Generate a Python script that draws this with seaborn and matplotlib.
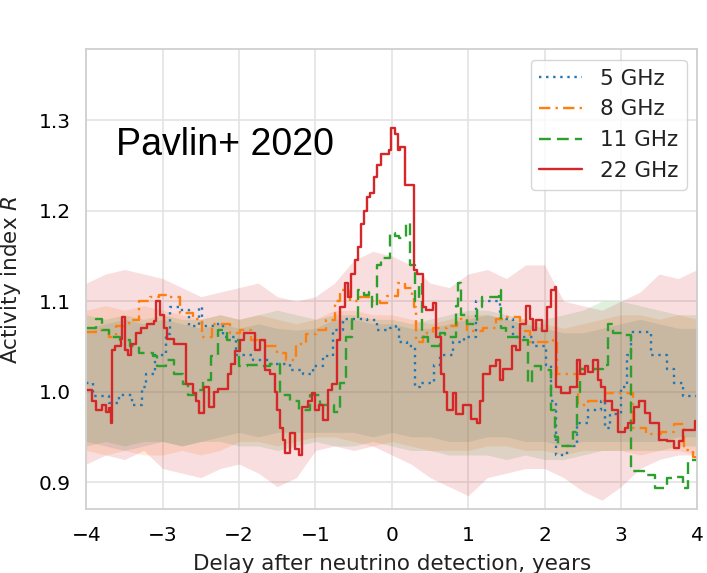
import numpy as np
import pandas as pd
import matplotlib
matplotlib.use("Agg")
import matplotlib.pyplot as plt
import seaborn as sns

# ---------------- data ----------------
labels = ["5 GHz", "8 GHz", "11 GHz", "22 GHz"]

x_5 = [-4.0, -3.92, -3.70, -3.57, -3.40, -3.27, -3.22, -3.10, -2.96, -2.90, -2.78, -2.65,
       -2.52, -2.48, -2.34, -2.21, -2.04, -1.82, -1.60, -1.34, -1.16, -1.03, -0.90, -0.77,
       -0.64, -0.50, -0.33, -0.20, -0.03, 0.06, 0.10, 0.20, 0.30, 0.37, 0.55, 0.63, 0.80,
       0.95, 1.10, 1.41, 1.59, 1.63, 1.85, 2.02, 2.09, 2.15, 2.30, 2.42, 2.57, 2.74, 2.79,
       2.86, 3.00, 3.08, 3.13, 3.40, 3.60, 3.70, 3.81, 4.0]
y_5 = [1.010, 0.995, 0.987, 0.996, 0.985, 1.005, 1.020, 1.040, 1.064, 1.094, 1.090, 1.072,
       1.094, 1.072, 1.075, 1.060, 1.040, 1.035, 1.031, 1.024, 1.020, 1.028, 1.039, 1.068,
       1.080, 1.080, 1.079, 1.068, 1.070, 1.072, 1.055, 1.050, 1.005, 1.010, 1.030, 1.040,
       1.055, 1.060, 1.100, 1.080, 1.060, 1.060, 1.050, 1.030, 0.990, 0.930, 0.940, 0.965,
       0.980, 0.990, 0.960, 0.975, 1.005, 1.040, 1.066, 1.040, 1.025, 1.010, 0.995, 0.995]

x_8 = [-4.0, -3.87, -3.70, -3.61, -3.44, -3.31, -3.17, -3.05, -2.92, -2.78, -2.60, -2.48,
       -2.35, -2.12, -1.99, -1.85, -1.67, -1.51, -1.38, -1.25, -1.12, -0.99, -0.86, -0.75,
       -0.68, -0.55, -0.42, -0.30, -0.15, -0.07, 0.08, 0.17, 0.26, 0.29, 0.32, 0.41, 0.54,
       0.72, 0.85, 0.98, 1.20, 1.37, 1.50, 1.68, 1.81, 2.11, 2.16, 2.44, 2.57, 2.79, 3.16,
       3.33, 3.53, 3.70, 3.83, 3.95, 4.0]
y_8 = [1.066, 1.068, 1.060, 1.072, 1.079, 1.100, 1.105, 1.107, 1.105, 1.087, 1.080, 1.060,
       1.075, 1.065, 1.068, 1.057, 1.050, 1.043, 1.035, 1.053, 1.064, 1.068, 1.079, 1.100,
       1.112, 1.100, 1.105, 1.100, 1.098, 1.106, 1.120, 1.115, 1.105, 1.094, 1.055, 1.065,
       1.070, 1.072, 1.080, 1.067, 1.070, 1.080, 1.083, 1.067, 1.055, 1.057, 1.020, 0.985,
       0.990, 0.998, 0.960, 0.953, 0.955, 0.964, 0.935, 0.928, 0.928]

x_11 = [-4.0, -3.88, -3.79, -3.70, -3.56, -3.43, -3.31, -3.13, -3.07, -2.96, -2.85, -2.74,
        -2.67, -2.56, -2.47, -2.37, -2.28, -2.16, -2.00, -1.90, -1.74, -1.60, -1.47, -1.34,
        -1.21, -1.07, -0.94, -0.76, -0.68, -0.60, -0.52, -0.44, -0.37, -0.30, -0.26, -0.20,
        -0.14, -0.03, 0.04, 0.10, 0.19, 0.24, 0.30, 0.36, 0.40, 0.47, 0.63, 0.69, 0.84, 0.87,
        0.91, 0.98, 1.12, 1.18, 1.40, 1.43, 1.50, 1.68, 1.78, 1.84, 1.95, 2.09, 2.14, 2.18,
        2.37, 2.42, 2.46, 2.77, 2.83, 2.90, 3.05, 3.13, 3.30, 3.44, 3.60, 3.73, 3.81, 3.88, 4.0]
y_11 = [1.070, 1.080, 1.068, 1.060, 1.057, 1.050, 1.043, 1.039, 1.028, 1.035, 1.020, 1.009,
        0.996, 1.002, 1.013, 1.039, 1.068, 1.057, 1.028, 1.030, 1.028, 1.031, 0.996, 0.990,
        0.980, 0.996, 0.985, 0.978, 1.010, 1.060, 1.083, 1.112, 1.107, 1.110, 1.094, 1.140,
        1.148, 1.175, 1.172, 1.170, 1.186, 1.140, 1.100, 1.120, 1.060, 1.050, 1.065, 1.060,
        1.095, 1.120, 1.085, 1.075, 1.094, 1.105, 1.112, 1.070, 1.060, 1.057, 1.010, 1.028,
        1.024, 0.980, 0.950, 0.940, 0.955, 1.000, 1.025, 1.030, 1.075, 1.065, 1.063, 0.912,
        0.908, 0.894, 0.905, 0.906, 0.894, 0.925, 0.925]

x_22 = [-4.0, -3.93, -3.87, -3.80, -3.74, -3.70, -3.68, -3.66, -3.62, -3.55, -3.53, -3.50,
        -3.46, -3.42, -3.35, -3.28, -3.20, -3.12, -3.09, -3.03, -2.99, -2.94, -2.85, -2.70,
        -2.60, -2.56, -2.52, -2.46, -2.40, -2.33, -2.28, -2.15, -2.11, -2.05, -1.99, -1.93,
        -1.79, -1.73, -1.66, -1.60, -1.53, -1.50, -1.46, -1.42, -1.40, -1.33, -1.27, -1.22,
        -1.18, -1.10, -1.05, -1.01, -0.95, -0.90, -0.83, -0.78, -0.72, -0.68, -0.62, -0.57,
        -0.53, -0.48, -0.44, -0.40, -0.36, -0.32, -0.28, -0.24, -0.19, -0.14, -0.04, -0.01,
        0.04, 0.08, 0.11, 0.17, 0.29, 0.33, 0.41, 0.45, 0.54, 0.58, 0.64, 0.68, 0.72, 0.80,
        0.84, 0.93, 1.04, 1.11, 1.15, 1.20, 1.28, 1.37, 1.41, 1.45, 1.57, 1.62, 1.68, 1.76,
        1.81, 1.85, 1.89, 1.96, 2.03, 2.09, 2.13, 2.15, 2.22, 2.33, 2.43, 2.46, 2.53, 2.57,
        2.64, 2.70, 2.74, 2.79, 2.88, 2.96, 3.05, 3.09, 3.17, 3.24, 3.31, 3.38, 3.50, 3.60,
        3.70, 3.76, 3.81, 3.97, 4.0]
y_22 = [1.002, 0.990, 0.980, 0.985, 0.978, 0.982, 0.965, 1.046, 1.050, 1.058, 1.083, 1.046,
        1.040, 1.053, 1.065, 1.070, 1.075, 1.078, 1.100, 1.085, 1.070, 1.058, 1.053, 1.009,
        0.998, 0.990, 0.976, 1.005, 0.983, 1.000, 1.003, 1.020, 1.031, 1.045, 1.057, 1.065,
        1.046, 1.057, 1.024, 1.020, 1.000, 0.980, 0.960, 0.947, 0.932, 0.954, 0.937, 0.930,
        0.983, 0.990, 0.998, 0.980, 0.985, 0.969, 1.002, 1.009, 1.057, 1.094, 1.120, 1.105,
        1.130, 1.145, 1.160, 1.185, 1.200, 1.215, 1.220, 1.237, 1.250, 1.263, 1.267, 1.291,
        1.285, 1.267, 1.270, 1.228, 1.134, 1.130, 1.094, 1.090, 1.098, 1.060, 1.020, 1.000,
        0.980, 0.998, 0.975, 0.985, 0.970, 0.965, 0.990, 1.020, 1.028, 1.035, 1.013, 1.025,
        1.050, 1.046, 1.075, 1.095, 1.080, 1.068, 1.079, 1.067, 1.094, 1.112, 1.116, 1.005,
        0.998, 1.005, 1.035, 1.020, 1.028, 1.022, 1.035, 1.013, 1.005, 0.990, 0.980, 0.955,
        0.960, 0.965, 0.983, 0.990, 0.976, 0.965, 0.947, 0.945, 0.938, 0.945, 0.958, 0.968,
        0.968]

# uncertainty bands, sampled every quarter year from -4 to 4
band_x = [-4.0, -3.75, -3.5, -3.25, -3.0, -2.75, -2.5, -2.25, -2.0, -1.75, -1.5, -1.25,
          -1.0, -0.75, -0.5, -0.25, 0.0, 0.25, 0.5, 0.75, 1.0, 1.25, 1.5, 1.75, 2.0, 2.25,
          2.5, 2.75, 3.0, 3.25, 3.5, 3.75, 4.0]
lo_5 = [0.945, 0.940, 0.935, 0.940, 0.945, 0.940, 0.945, 0.950, 0.955, 0.950, 0.955, 0.955,
        0.955, 0.955, 0.955, 0.950, 0.955, 0.950, 0.950, 0.945, 0.945, 0.950, 0.950, 0.945,
        0.945, 0.940, 0.945, 0.945, 0.945, 0.945, 0.945, 0.950, 0.950]
hi_5 = [1.070, 1.075, 1.080, 1.075, 1.080, 1.075, 1.070, 1.075, 1.070, 1.075, 1.070, 1.068,
        1.070, 1.080, 1.080, 1.075, 1.075, 1.070, 1.070, 1.075, 1.080, 1.085, 1.080, 1.075,
        1.070, 1.065, 1.065, 1.070, 1.075, 1.080, 1.075, 1.070, 1.070]
lo_8 = [0.935, 0.930, 0.935, 0.930, 0.930, 0.935, 0.930, 0.935, 0.945, 0.945, 0.940, 0.945,
        0.950, 0.950, 0.945, 0.940, 0.945, 0.940, 0.935, 0.935, 0.935, 0.940, 0.940, 0.935,
        0.935, 0.930, 0.935, 0.935, 0.935, 0.930, 0.935, 0.935, 0.930]
hi_8 = [1.090, 1.095, 1.090, 1.095, 1.090, 1.085, 1.080, 1.085, 1.080, 1.085, 1.080, 1.075,
        1.080, 1.090, 1.090, 1.085, 1.085, 1.080, 1.075, 1.080, 1.085, 1.085, 1.080, 1.080,
        1.075, 1.070, 1.075, 1.080, 1.085, 1.085, 1.080, 1.085, 1.080]
lo_11 = [0.940, 0.945, 0.940, 0.945, 0.945, 0.940, 0.945, 0.945, 0.940, 0.940, 0.935, 0.940,
         0.945, 0.940, 0.940, 0.945, 0.940, 0.935, 0.935, 0.930, 0.930, 0.930, 0.925, 0.930,
         0.925, 0.925, 0.930, 0.935, 0.935, 0.935, 0.935, 0.940, 0.940]
hi_11 = [1.085, 1.080, 1.085, 1.080, 1.085, 1.080, 1.080, 1.085, 1.080, 1.085, 1.090, 1.085,
         1.080, 1.085, 1.085, 1.080, 1.080, 1.075, 1.080, 1.085, 1.090, 1.090, 1.085, 1.080,
         1.080, 1.085, 1.090, 1.100, 1.100, 1.095, 1.090, 1.085, 1.085]
lo_22 = [0.920, 0.930, 0.925, 0.935, 0.915, 0.910, 0.905, 0.915, 0.920, 0.910, 0.895, 0.905,
         0.935, 0.940, 0.935, 0.940, 0.930, 0.920, 0.905, 0.895, 0.885, 0.905, 0.910, 0.915,
         0.915, 0.905, 0.890, 0.880, 0.895, 0.915, 0.925, 0.930, 0.930]
hi_22 = [1.120, 1.130, 1.135, 1.130, 1.125, 1.115, 1.105, 1.110, 1.115, 1.120, 1.105, 1.100,
         1.105, 1.120, 1.145, 1.155, 1.150, 1.140, 1.120, 1.115, 1.130, 1.135, 1.125, 1.140,
         1.140, 1.100, 1.095, 1.090, 1.100, 1.110, 1.130, 1.125, 1.135]

annotation = "Pavlin+ 2020"
x_title = "Delay after neutrino detection, years"
y_title = "Activity index $R$"
x_ticks = [-4, -3, -2, -1, 0, 1, 2, 3, 4]
y_ticks = [0.9, 1.0, 1.1, 1.2, 1.3]

# ---------------- styling ----------------
sns.set_theme(style="whitegrid")
plt.rcParams["font.family"] = ["DejaVu Sans"]

palette = sns.color_palette("tab10")
colors = [palette[0], palette[1], palette[2], palette[3]]
linestyles = [(0, (1.0, 2.0)), (0, (4.8, 2.2, 1.0, 2.2)), (0, (5.0, 2.6)), "-"]

series = [(x_5, y_5), (x_8, y_8), (x_11, y_11), (x_22, y_22)]
bands = [(lo_5, hi_5), (lo_8, hi_8), (lo_11, hi_11), (lo_22, hi_22)]

fig = plt.figure(figsize=(7.07, 5.73), dpi=100)
ax = fig.add_axes([86.4 / 707, 1 - 509.3 / 573, (697.3 - 86.4) / 707, (509.3 - 49.3) / 573])

for (lo, hi), c in zip(bands, colors):
    ax.fill_between(band_x, lo, hi, color=c, alpha=0.15, linewidth=0)

for (xs, ys), c, ls, lab in zip(series, colors, linestyles, labels):
    df = pd.DataFrame({"x": xs, "y": ys})
    sns.lineplot(data=df, x="x", y="y", ax=ax, color=c, linestyle=ls,
                 drawstyle="steps-post", linewidth=1.7, label=lab,
                 estimator=None, sort=False)

ax.set_xlim(-4, 4)
ax.set_ylim(0.870, 1.3783)
ax.set_xticks(x_ticks)
ax.set_yticks(y_ticks)
ax.set_xticklabels([f"{t}".replace("-", "\u2212") for t in x_ticks])
ax.set_yticklabels([f"{t:.1f}" for t in y_ticks])
ax.tick_params(axis="both", labelsize=14.5, length=0, colors="black")
ax.tick_params(axis="x", pad=12)
ax.tick_params(axis="y", pad=11)

ax.set_xlabel(x_title, fontsize=15.5, color="#222222")
ax.set_ylabel(y_title, fontsize=15.5, color="#222222")
ax.xaxis.set_label_coords(0.5, -0.0965)
ax.yaxis.set_label_coords(-0.104, 0.5)

ax.grid(True, color="#e3e3e3", linewidth=1.2)
for sp in ax.spines.values():
    sp.set_color("#d0d0d0")
    sp.set_linewidth(1.3)

ax.text(-3.613, 1.2615, annotation, fontsize=27, family=["Liberation Sans", "DejaVu Sans"],
        ha="left", va="baseline", color="black")

leg = ax.legend(loc="upper right", fontsize=15.5, frameon=True, fancybox=True,
                framealpha=0.8, edgecolor="#cccccc", borderaxespad=0.5)
for t in leg.get_texts():
    t.set_color("#222222")

fig.savefig("out.png", dpi=100)
